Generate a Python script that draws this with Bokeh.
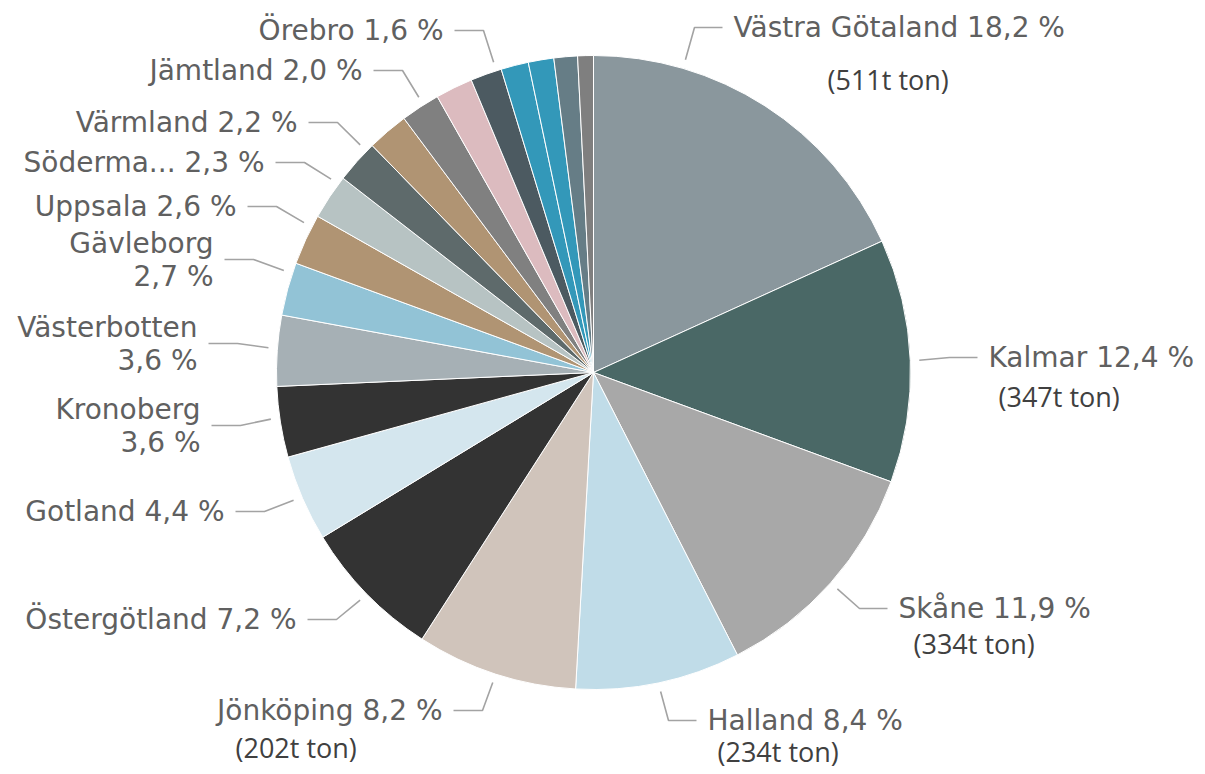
import math
from bokeh.plotting import figure
from bokeh.models import ColumnDataSource, Range1d
from bokeh.core.properties import value
from bokeh.embed import file_html
from bokeh.resources import INLINE

# ---------------- data ----------------
regions = ["Västra Götaland", "Kalmar", "Skåne", "Halland", "Jönköping",
           "Östergötland", "Gotland", "Kronoberg", "Västerbotten", "Gävleborg",
           "Uppsala", "Södermanland", "Värmland", "", "Jämtland", "", "Örebro",
           "", "", "", ""]
display_names = ["Västra Götaland", "Kalmar", "Skåne", "Halland", "Jönköping",
                 "Östergötland", "Gotland", "Kronoberg", "Västerbotten", "Gävleborg",
                 "Uppsala", "Söderma...", "Värmland", "", "Jämtland", "", "Örebro",
                 "", "", "", ""]
shares = [18.2, 12.4, 11.9, 8.4, 8.2, 7.2, 4.4, 3.6, 3.6, 2.7, 2.6, 2.3, 2.2,
          2.1, 2.0, 1.9, 1.6, 1.4, 1.3, 1.2, 0.8]
colors = ["#8a979d", "#4a6866", "#a8a8a8", "#c0dce8", "#d0c4bb", "#333333",
          "#d4e6ee", "#333333", "#a6b0b5", "#92c3d6", "#b09473", "#b7c3c3",
          "#5e6a6b", "#b09473", "#808080", "#dcbbbf", "#4c5a61", "#3398b9",
          "#3398b9", "#667d86", "#7f7f7f"]
tons_regions = ["Västra Götaland", "Kalmar", "Skåne", "Halland", "Jönköping"]
tons_labels = ["(511t ton)", "(347t ton)", "(334t ton)", "(234t ton)", "(202t ton)"]

# ---------------- layout (reference pixel coordinates) ----------------
W, H = 1197, 770
CX, CY, R = 593, 372, 317
R_TOUCH = 326

def Y(py):
    return H - py

# region -> (anchor x, anchor y, side, touch fraction, two lines)
label_layout = {
    "Västra Götaland": (733, 27, "R", 0.25, False),
    "Kalmar": (988, 357, "R", 0.5, False),
    "Skåne": (898, 608, "R", 0.5, False),
    "Halland": (707, 720, "R", 0.5, False),
    "Jönköping": (442, 710, "L", 0.5, False),
    "Östergötland": (296, 619, "L", 0.5, False),
    "Gotland": (224, 511, "L", 0.52, False),
    "Kronoberg": (200, 425, "L", 0.56, True),
    "Västerbotten": (197, 343, "L", 0.53, True),
    "Gävleborg": (213, 259, "L", 0.8, True),
    "Uppsala": (236, 206, "L", 0.77, False),
    "Södermanland": (264, 162, "L", 0.83, False),
    "Värmland": (297, 122, "L", 0.82, False),
    "Jämtland": (362, 70, "L", 0.6, False),
    "Örebro": (443, 30, "L", 0.84, False),
}
tons_layout = {
    "Västra Götaland": (827, 79),
    "Kalmar": (998, 396),
    "Skåne": (913, 643),
    "Halland": (717, 751),
    "Jönköping": (235, 747),
}

# ---------------- geometry from data ----------------
total = sum(shares)
cum = [0.0]
for s in shares:
    cum.append(cum[-1] + s)
start = [math.pi / 2 - 2 * math.pi * cum[i] / total for i in range(len(shares))]
end = [math.pi / 2 - 2 * math.pi * cum[i + 1] / total for i in range(len(shares))]

src = ColumnDataSource(dict(start=start, end=end, color=colors, region=regions,
                            share=shares))

p = figure(width=W, height=H, x_range=Range1d(0, W), y_range=Range1d(0, H),
           output_backend="svg", toolbar_location=None, min_border=0,
           background_fill_color="white", border_fill_color="white")
p.axis.visible = False
p.grid.visible = False
p.outline_line_color = None

p.wedge(x=CX, y=Y(CY), radius=R, start_angle="start", end_angle="end",
        direction="clock", fill_color="color", line_color="white", line_width=1,
        source=src)

# connectors and labels
xs, ys = [], []
lt = dict(x=[], y=[], text=[])
rt = dict(x=[], y=[], text=[])
for i, reg in enumerate(regions):
    if reg not in label_layout:
        continue
    ax, ay, side, frac, two = label_layout[reg]
    theta = 2 * math.pi * (cum[i] + frac * shares[i]) / total
    tx = CX + R_TOUCH * math.sin(theta)
    ty = CY - R_TOUCH * math.cos(theta)
    if side == "L":
        ex = ax + 11
        bx = ex + 29
    else:
        ex = ax - 11
        bx = ex - 28
    xs.append([tx, bx, ex])
    ys.append([Y(ty), Y(ay), Y(ay)])
    pct = ("%.1f" % shares[i]).replace(".", ",") + " %"
    d = rt if side == "R" else lt
    if two:
        d["x"] += [ax, ax]
        d["y"] += [Y(ay - 16.5), Y(ay + 16.5)]
        d["text"] += [display_names[i], pct]
    else:
        d["x"].append(ax)
        d["y"].append(Y(ay))
        d["text"].append(display_names[i] + " " + pct)

p.multi_line(xs=xs, ys=ys, line_color="#a3a3a3", line_width=1.6)

font = value("DejaVu Sans")
p.text(x="x", y="y", text="text", source=ColumnDataSource(lt), text_align="right",
       text_baseline="middle", text_font=font, text_font_size="28px",
       text_color="#606060")
p.text(x="x", y="y", text="text", source=ColumnDataSource(rt), text_align="left",
       text_baseline="middle", text_font=font, text_font_size="28px",
       text_color="#606060")

tx_, ty_ = [], []
for reg in tons_regions:
    x0, y0 = tons_layout[reg]
    tx_.append(x0)
    ty_.append(Y(y0))
p.text(x=tx_, y=ty_, text=tons_labels, text_align="left", text_baseline="middle",
       text_font=value("Open Sans"), text_font_size="27px", text_color="#404040")

open("out.html", "w").write(file_html(p, INLINE))
